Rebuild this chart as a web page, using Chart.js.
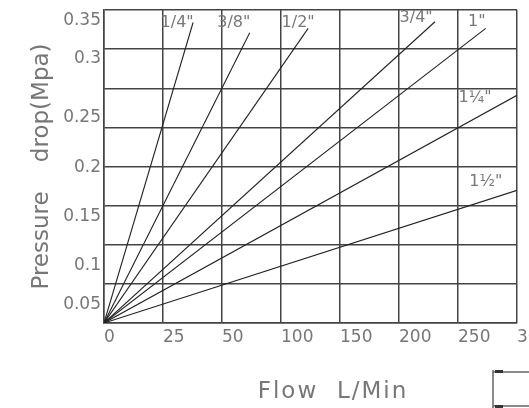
<!DOCTYPE html>
<html>
<head>
<meta charset="utf-8">
<script src="https://cdn.jsdelivr.net/npm/chart.js@4"></script>
<style>
  html, body { margin: 0; padding: 0; background: #fff; }
  #wrap { width: 529px; height: 408px; position: relative; }
</style>
</head>
<body>
<div id="wrap"><canvas id="flowChart"></canvas></div>
<script>
// chart is drawn on a grid of 7 x 8 cells, tick labels are not evenly spaced
var flowTicks = ['0', '25', '50', '100', '150', '200', '250', '300'];
var pressureTicks = ['0.35', '0.3', '0.25', '0.2', '0.15', '0.1', '0.05'];
var pressureTickPos = [7.73, 6.76, 5.26, 3.98, 2.73, 1.48, 0.46];

// pipe sizes, each line goes from the origin to its end point (grid units)
var sizes = ['1/4"', '3/8"', '1/2"', '3/4"', '1"', '1¼"', '1½"'];
var endFlow = [1.51, 2.47, 3.46, 5.61, 6.47, 7, 7];
var endDrop = [7.68, 7.42, 7.53, 7.70, 7.53, 5.82, 3.39];
var labelFlow = [1.24, 2.20, 3.29, 5.29, 6.32, 6.29, 6.47];
var labelDrop = [7.66, 7.66, 7.66, 7.79, 7.69, 5.75, 3.60];

var datasets = [];
for (var i = 0; i < sizes.length; i++) {
    datasets.push({
        label: sizes[i],
        data: [{x: 0, y: 0}, {x: endFlow[i], y: endDrop[i]}],
        borderColor: '#222',
        borderWidth: 1.1,
        pointRadius: 0,
        fill: false
    });
}

var textColor = '#777';

// labels for each line, x title and the little dimension mark
var extras = {
    id: 'extras',
    afterDraw: function (chart) {
        var c = chart.ctx;
        var xs = chart.scales.x, ys = chart.scales.y;
        c.save();
        c.fillStyle = textColor;
        c.textAlign = 'center';
        c.textBaseline = 'middle';
        c.font = '16px "DejaVu Sans"';
        for (var i = 0; i < sizes.length; i++) {
            c.fillText(sizes[i], xs.getPixelForValue(labelFlow[i]), ys.getPixelForValue(labelDrop[i]));
        }
        c.font = '23px "DejaVu Sans"';
        c.letterSpacing = '2px';
        c.fillText('Flow  L/Min', 333, 392);
        c.letterSpacing = '0px';

        c.strokeStyle = '#666';
        c.lineWidth = 1.5;
        c.beginPath();
        c.moveTo(493, 370); c.lineTo(493, 408);
        c.moveTo(493, 372); c.lineTo(529, 372);
        c.moveTo(493, 406); c.lineTo(529, 406);
        c.stroke();
        c.fillStyle = '#333';
        c.fillRect(495, 370, 8, 3);
        c.fillRect(495, 405, 8, 3);
        c.restore();
    }
};

var ctx = document.getElementById('flowChart').getContext('2d');
var flowChart = new Chart(ctx, {
    type: 'line',
    data: { datasets: datasets },
    options: {
        responsive: true,
        maintainAspectRatio: false,
        animation: false,
        layout: { padding: { left: 0, top: 10, right: 12, bottom: 0 } },
        plugins: {
            legend: { display: false },
            tooltip: { enabled: false }
        },
        scales: {
            x: {
                type: 'linear',
                min: 0,
                max: 7,
                grid: { color: '#444', lineWidth: 1.5, drawTicks: false },
                border: { color: '#444', width: 1.5 },
                ticks: {
                    stepSize: 1,
                    align: 'start',
                    padding: 4,
                    autoSkip: false,
                    maxRotation: 0,
                    color: textColor,
                    font: { family: 'DejaVu Sans', size: 17 },
                    callback: function (v) { return flowTicks[v]; }
                },
                afterFit: function (scale) {
                    scale.height = 85;
                    scale.paddingLeft = 0;
                    scale.paddingRight = 0;
                }
            },
            y: {
                type: 'linear',
                min: 0,
                max: 8,
                grid: {
                    lineWidth: 1.5,
                    drawTicks: false,
                    color: function (context) {
                        var v = context.tick ? context.tick.value : 0;
                        return Number.isInteger(v) ? '#444' : 'rgba(0,0,0,0)';
                    }
                },
                border: { color: '#444', width: 1.5 },
                title: {
                    display: true,
                    text: 'Pressure    drop(Mpa)',
                    color: textColor,
                    font: { family: 'DejaVu Sans', size: 23 },
                    padding: { top: 28, bottom: 0 }
                },
                ticks: {
                    autoSkip: false,
                    padding: 3,
                    color: textColor,
                    font: { family: 'DejaVu Sans', size: 17 },
                    callback: function (v) {
                        var k = pressureTickPos.indexOf(v);
                        return k >= 0 ? pressureTicks[k] : '';
                    }
                },
                afterBuildTicks: function (scale) {
                    var t = [];
                    for (var g = 0; g <= 8; g++) t.push({ value: g });
                    for (var k = 0; k < pressureTickPos.length; k++) t.push({ value: pressureTickPos[k] });
                    scale.ticks = t;
                },
                afterFit: function (scale) {
                    scale.width = 104;
                    scale.paddingTop = 0;
                    scale.paddingBottom = 0;
                }
            }
        }
    },
    plugins: [extras]
});
</script>
</body>
</html>
